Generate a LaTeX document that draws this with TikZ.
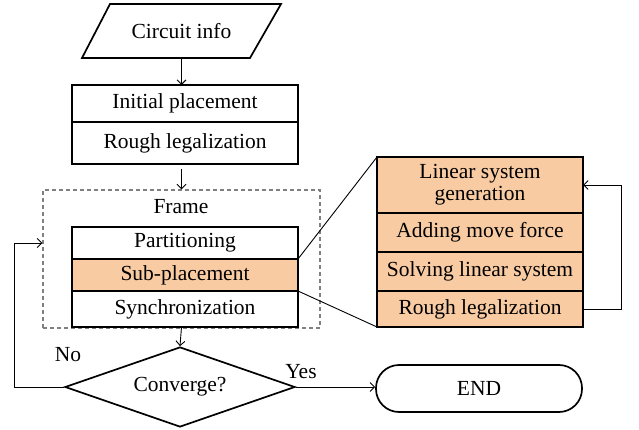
\documentclass[tikz,border=0pt]{standalone}
\usepackage{fontspec}
\setmainfont{Liberation Serif}
\usepackage{xcolor}
\usetikzlibrary{positioning, arrows.meta, shapes.geometric}

\definecolor{peach}{RGB}{249,203,162}

\tikzset{
  txt/.style={font=\fontsize{21.5}{22}\selectfont},
  stepbox/.style={rectangle, draw, line width=1.7pt, outer sep=0pt, minimum width=226pt, inner sep=2pt, txt},
  subbox/.style={stepbox, fill=peach, minimum width=206pt, align=center},
  link/.style={line width=0.9pt},
}

\begin{document}
\begin{tikzpicture}[x=1pt, y=-1pt, >={Straight Barb[length=4.5pt, width=9pt]}, node distance=0pt]
  \useasboundingbox (0,0) rectangle (639,430);

  % input
  \draw[line width=1.7pt, line join=miter] (110,4) -- (281,4) -- (250,58) -- (82,58) -- cycle;
  \node (info) [txt, minimum height=54pt, inner sep=0pt] at (181.5,31) {Circuit info};

  % global placement
  \node (init) [stepbox, minimum height=37pt] at (185,103.5) {Initial placement};
  \node (rough) [stepbox, minimum height=42pt, below=of init] {Rough legalization};

  % frame with the three steps
  \node (frame) [draw=black!50, dash pattern=on 4pt off 3pt, line width=1.3pt, minimum width=277pt, minimum height=138pt] at (181.5,259) {};
  \node (frametitle) [txt] at (181,207) {Frame};
  \node (part) [stepbox, minimum height=32pt] at (185,243) {Partitioning};
  \node (sub) [stepbox, fill=peach, minimum height=32pt, below=of part] {Sub-placement};
  \node (sync) [stepbox, minimum height=36pt, below=of sub] {Synchronization};

  % decision and end
  \node (conv) [diamond, draw, line width=1.7pt, shape aspect=2.875, minimum width=230pt, minimum height=80pt, inner sep=0pt, txt] at (180,387) {Converge?};
  \node (endnode) [rectangle, draw, line width=1.7pt, rounded corners=23pt, minimum width=206pt, minimum height=47pt, txt] at (479,388.5) {END};

  % sub-placement detail
  \node (lsg) [subbox, minimum height=56pt] at (480,185) {Linear system\\generation};
  \node (amf) [subbox, minimum height=39pt, below=of lsg] {Adding move force};
  \node (solve) [subbox, minimum height=39pt, below=of amf] {Solving linear system};
  \node (rlg) [subbox, minimum height=36pt, below=of solve] {Rough legalization};

  \node (no) [txt] at (68,355) {No};
  \node (yes) [txt] at (301,372) {Yes};

  % connectors
  \draw[link, ->] (info.south) -- (info |- init.north);
  \draw[link, ->] ([yshift=-5pt]rough.south -| info) -- (info |- frame.north);
  \draw[link, ->] (info |- sync.south) -- (conv.north);
  \draw[link, ->] (conv.east) -- (conv.east -| endnode.west);
  \draw[link, ->] (conv.west) -- ++(-50,0) |- (frame.west |- part);
  \draw[link, ->] (rlg.east) -- ++(38,0) |- (lsg.east);
  \draw[link] (sub.north east) -- (lsg.north west);
  \draw[link] (sub.south east) -- (rlg.south west);
\end{tikzpicture}
\end{document}
